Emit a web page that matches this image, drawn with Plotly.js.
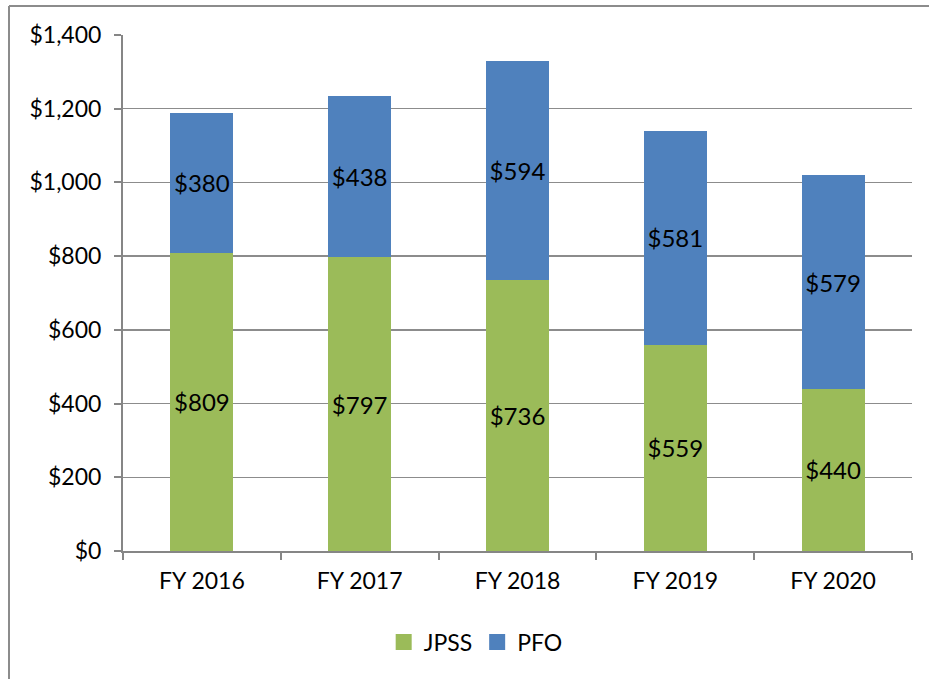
<!DOCTYPE html>
<html>
<head>
<meta charset="utf-8">
<script src="https://cdn.plot.ly/plotly-3.0.1.min.js"></script>
<style>
html,body{margin:0;padding:0;background:#fff;}
#chart{width:929px;height:679px;}
</style>
</head>
<body>
<div id="chart"></div>
<script>
const categories = ["FY 2016", "FY 2017", "FY 2018", "FY 2019", "FY 2020"];
const jpss = [809, 797, 736, 559, 440];
const pfo = [380, 438, 594, 581, 579];
const yTicks = [0, 200, 400, 600, 800, 1000, 1200, 1400];
const yTickLabels = ["$0", "$200", "$400", "$600", "$800", "$1,000", "$1,200", "$1,400"];

const FONT = "Lato, 'Open Sans', sans-serif";
const fmt = v => "$" + v;
const GREEN = "#9bbb59", BLUE = "#4f81bd";

const traces = [
  {
    type: "bar", name: "JPSS", x: categories, y: jpss, showlegend: false,
    marker: {color: GREEN},
    text: jpss.map(fmt), textposition: "inside", insidetextanchor: "middle",
    textfont: {family: FONT, size: 24, color: "#000"},
    constraintext: "none", hoverinfo: "none"
  },
  {
    type: "bar", name: "PFO", x: categories, y: pfo, showlegend: false,
    marker: {color: BLUE},
    text: pfo.map(fmt), textposition: "inside", insidetextanchor: "middle",
    textfont: {family: FONT, size: 24, color: "#000"},
    constraintext: "none", hoverinfo: "none"
  },
  {type: "scatter", mode: "markers", name: "JPSS", x: [null], y: [null],
   marker: {symbol: "square", size: 16, color: GREEN}, hoverinfo: "none"},
  {type: "scatter", mode: "markers", name: "PFO", x: [null], y: [null],
   marker: {symbol: "square", size: 16, color: BLUE}, hoverinfo: "none"}
];

const W = 929, H = 679;
const mL = 123, mR = 17, mT = 35, mB = 128;
const pw = W - mL - mR, ph = H - mT - mB;

const layout = {
  width: W, height: H,
  margin: {l: mL, r: mR, t: mT, b: mB, pad: 0},
  paper_bgcolor: "#fff", plot_bgcolor: "#fff",
  barmode: "stack", bargap: 0.6,
  font: {family: FONT, size: 23, color: "#000"},
  showlegend: true,
  legend: {
    orientation: "h", x: 0.447, xanchor: "center", y: -0.135, yanchor: "top",
    font: {family: FONT, size: 23, color: "#000"},
    traceorder: "normal", itemwidth: 30
  },
  xaxis: {
    type: "category", showgrid: false, showline: true, linecolor: "#868686", linewidth: 2,
    ticks: "outside", tickson: "boundaries", ticklen: 7, tickcolor: "#868686", tickwidth: 2,
    ticklabelstandoff: 8,
    tickfont: {family: FONT, size: 23, color: "#000"}, zeroline: false
  },
  yaxis: {
    range: [0, 1400], tickvals: yTicks, ticktext: yTickLabels,
    showgrid: true, gridcolor: "#8c8c8c", gridwidth: 1.5,
    showline: true, linecolor: "#868686", linewidth: 2,
    ticks: "outside", ticklen: 7, tickcolor: "#868686", tickwidth: 2,
    ticklabelstandoff: 8,
    tickfont: {family: FONT, size: 23, color: "#000"}, zeroline: false
  },
  shapes: [
    {type: "line", xref: "paper", yref: "paper",
     x0: (9 - mL) / pw, x1: (940 - mL) / pw, y0: (H - mB - 6) / ph, y1: (H - mB - 6) / ph,
     line: {color: "#8c8c8c", width: 2}},
    {type: "line", xref: "paper", yref: "paper",
     x0: (9 - mL) / pw, x1: (9 - mL) / pw, y0: (H - mB - 6) / ph, y1: (H - mB - 700) / ph,
     line: {color: "#8c8c8c", width: 2}}
  ]
};

Plotly.newPlot("chart", traces, layout, {displayModeBar: false, staticPlot: true});
</script>
</body>
</html>
